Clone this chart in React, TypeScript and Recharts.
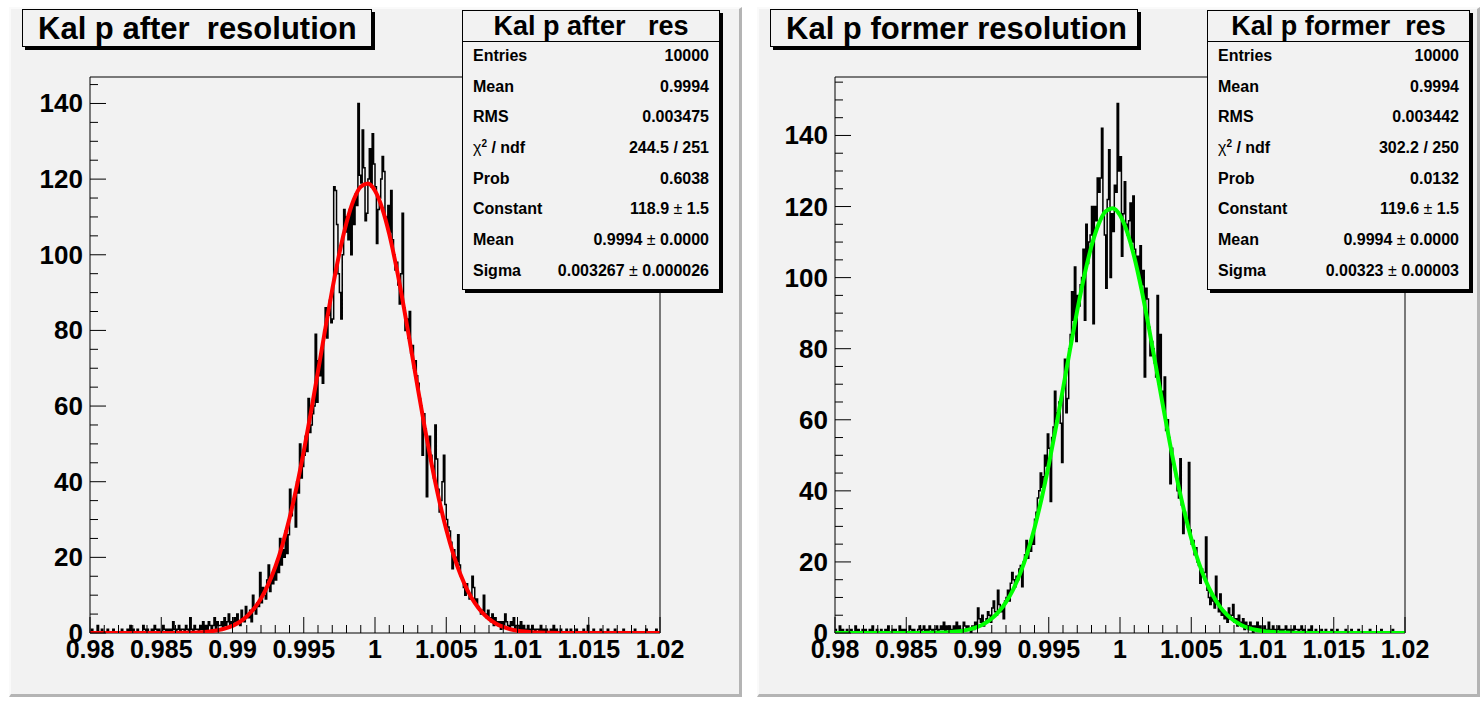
import React from 'react';
import { ComposedChart, Line, XAxis, YAxis, ReferenceArea } from 'recharts';

// ---- binning ----
const X_MIN = 0.98;
const X_MAX = 1.02;
const BIN_WIDTH = 0.0001; // 400 bins
const FIT_STEP = 0.0005; // fit curve sampling

// ---- "Kal p after resolution" bin contents (400 bins) ----
const afterCounts = [
  0, 1, 0, 0, 0, 2, 0, 0, 1, 0, 0, 0, 1, 0, 0, 0, 1, 0, 0, 0,
  0, 0, 1, 0, 0, 0, 1, 0, 2, 0, 1, 0, 0, 1, 0, 0, 0, 2, 1, 0,
  1, 0, 0, 1, 0, 2, 1, 0, 1, 0, 0, 2, 1, 0, 1, 0, 1, 0, 3, 1,
  0, 1, 2, 0, 1, 1, 0, 2, 1, 0, 4, 1, 0, 2, 1, 1, 0, 2, 1, 3,
  1, 2, 1, 3, 2, 1, 2, 4, 1, 3, 2, 2, 3, 1, 4, 2, 3, 5, 2, 3,
  2, 4, 3, 5, 3, 2, 6, 4, 3, 7, 5, 4, 6, 3, 10, 6, 5, 8, 7, 16,
  8, 12, 10, 9, 14, 18, 11, 15, 13, 17, 14, 19, 16, 25, 18, 22, 20, 27, 21, 26,
  38, 31, 34, 36, 28, 40, 37, 50, 41, 44, 47, 52, 48, 62, 53, 55, 58, 60, 79, 61,
  72, 68, 75, 66, 80, 86, 78, 84, 88, 82, 83, 118, 117, 108, 95, 90, 83, 100, 112, 106,
  110, 104, 112, 100, 114, 108, 116, 113, 140, 121, 119, 133, 123, 109, 111, 120, 128, 118, 132, 124,
  118, 103, 112, 115, 120, 126, 122, 110, 108, 113, 106, 117, 104, 100, 96, 98, 92, 87, 95, 111,
  86, 80, 83, 78, 85, 74, 76, 70, 72, 68, 66, 62, 60, 47, 58, 54, 36, 49, 52, 47,
  44, 41, 55, 46, 38, 32, 35, 40, 47, 34, 30, 28, 27, 24, 17, 22, 20, 19, 26, 18,
  15, 14, 12, 10, 13, 11, 9, 10, 15, 12, 8, 9, 7, 6, 5, 6, 10, 5, 4, 6,
  4, 3, 5, 2, 4, 3, 2, 3, 1, 3, 2, 5, 3, 2, 1, 3, 2, 4, 1, 2,
  2, 1, 3, 1, 2, 0, 1, 2, 1, 0, 2, 1, 0, 1, 1, 0, 2, 0, 1, 0,
  1, 0, 0, 1, 0, 2, 0, 1, 0, 0, 1, 0, 0, 0, 1, 0, 0, 1, 0, 0,
  0, 1, 0, 0, 0, 0, 1, 0, 0, 2, 0, 0, 0, 1, 0, 0, 0, 0, 1, 0,
  0, 0, 0, 1, 0, 0, 0, 0, 1, 0, 0, 0, 0, 0, 1, 0, 0, 0, 0, 0,
  0, 0, 1, 0, 0, 0, 0, 0, 0, 0, 1, 0, 0, 0, 0, 0, 0, 1, 0, 0,
];

// ---- "Kal p former resolution" bin contents (400 bins) ----
const formerCounts = [
  1, 0, 0, 2, 0, 1, 0, 0, 1, 0, 0, 1, 0, 0, 2, 0, 1, 0, 0, 1,
  0, 1, 0, 0, 1, 0, 2, 0, 0, 1, 0, 0, 1, 0, 0, 1, 0, 2, 0, 0,
  1, 0, 1, 0, 0, 2, 0, 1, 0, 1, 0, 0, 2, 1, 0, 1, 0, 0, 1, 2,
  0, 1, 2, 0, 1, 0, 2, 1, 0, 1, 1, 2, 0, 1, 2, 1, 3, 0, 2, 1,
  2, 1, 0, 2, 1, 3, 1, 2, 0, 1, 3, 2, 1, 2, 1, 0, 2, 1, 3, 2,
  7, 4, 3, 5, 2, 3, 4, 6, 5, 3, 7, 9, 6, 5, 12, 8, 6, 7, 4, 9,
  10, 12, 9, 14, 17, 15, 13, 16, 15, 18, 19, 13, 20, 22, 26, 21, 24, 23, 27, 25,
  32, 34, 38, 40, 45, 41, 44, 50, 47, 56, 52, 37, 55, 58, 68, 60, 62, 65, 59, 48,
  70, 77, 62, 66, 80, 84, 96, 88, 103, 82, 95, 92, 98, 100, 108, 88, 115, 104, 110, 112,
  120, 87, 120, 116, 128, 124, 128, 142, 118, 112, 97, 122, 136, 100, 118, 113, 126, 124, 149, 130,
  134, 106, 118, 127, 115, 112, 116, 121, 110, 123, 108, 104, 106, 100, 109, 98, 102, 72, 97, 94,
  86, 78, 82, 80, 76, 72, 95, 70, 84, 68, 64, 72, 57, 60, 55, 42, 52, 48, 46, 44,
  40, 38, 49, 36, 28, 34, 32, 30, 48, 29, 25, 26, 22, 24, 20, 19, 14, 18, 16, 17,
  27, 12, 10, 8, 11, 9, 7, 16, 9, 6, 11, 5, 6, 4, 5, 3, 7, 4, 5, 8,
  3, 4, 2, 5, 3, 2, 4, 1, 3, 2, 1, 3, 2, 0, 2, 1, 3, 1, 2, 1,
  1, 2, 0, 1, 3, 1, 0, 2, 1, 0, 1, 2, 0, 1, 0, 1, 2, 0, 1, 0,
  1, 0, 2, 1, 1, 0, 1, 2, 0, 1, 0, 0, 1, 0, 2, 0, 0, 1, 0, 0,
  0, 1, 0, 0, 1, 0, 0, 0, 1, 0, 0, 0, 1, 0, 0, 0, 0, 0, 1, 0,
  0, 0, 1, 0, 0, 0, 0, 1, 0, 0, 0, 0, 0, 0, 0, 1, 0, 0, 0, 0,
  0, 0, 0, 1, 0, 0, 0, 0, 0, 0, 0, 1, 0, 0, 0, 0, 0, 0, 0, 0,
];

// ---- gaussian fit curves, sampled every 0.0005 from 0.98 to 1.02 (81 points) ----
const afterFit = [
  0, 0, 0, 0, 0, 0, 0, 0, 0, 0, 0, 0,
  0.03, 0.05, 0.09, 0.16, 0.27, 0.46, 0.75, 1.21,
  1.9, 2.91, 4.36, 6.39, 9.14, 12.78, 17.45, 23.28, 30.34, 38.61,
  48.01, 58.31, 69.18, 80.18, 90.78, 100.4, 108.47, 114.47, 118.01, 118.84,
  116.91, 112.35, 105.46, 96.71, 86.63, 75.8, 64.79, 54.1, 44.13, 35.16,
  27.36, 20.81, 15.45, 11.21, 7.94, 5.5, 3.72, 2.46, 1.59, 1.0,
  0.62, 0.37, 0.22, 0.12, 0.07, 0.04, 0.02,
  0, 0, 0, 0, 0, 0, 0, 0, 0, 0, 0, 0, 0, 0,
];
const formerFit = [
  0, 0, 0, 0, 0, 0, 0, 0, 0, 0, 0, 0,
  0.02, 0.04, 0.08, 0.13, 0.24, 0.4, 0.67, 1.09,
  1.73, 2.69, 4.07, 6.01, 8.67, 12.21, 16.8, 22.55, 29.57, 37.84,
  47.29, 57.7, 68.73, 79.93, 90.75, 100.6, 108.88, 115.05, 118.69, 119.54,
  117.55, 112.86, 105.79, 96.81, 86.5, 75.46, 64.26, 53.44, 43.38, 34.39,
  26.61, 20.11, 14.83, 10.68, 7.51, 5.15, 3.45, 2.26, 1.44, 0.9,
  0.55, 0.33, 0.19, 0.11, 0.06, 0.03, 0.02,
  0, 0, 0, 0, 0, 0, 0, 0, 0, 0, 0, 0, 0, 0,
];

// ---- axis ticks ----
const xTicks = [
  0.98, 0.981, 0.982, 0.983, 0.984, 0.985, 0.986, 0.987, 0.988, 0.989,
  0.99, 0.991, 0.992, 0.993, 0.994, 0.995, 0.996, 0.997, 0.998, 0.999,
  1.0, 1.001, 1.002, 1.003, 1.004, 1.005, 1.006, 1.007, 1.008, 1.009,
  1.01, 1.011, 1.012, 1.013, 1.014, 1.015, 1.016, 1.017, 1.018, 1.019, 1.02,
];
const xMajorTicks = [0.98, 0.985, 0.99, 0.995, 1.0, 1.005, 1.01, 1.015, 1.02];
const xTickLabels = ['0.98', '0.985', '0.99', '0.995', '1', '1.005', '1.01', '1.015', '1.02'];
const yTicksAfter = [
  0, 5, 10, 15, 20, 25, 30, 35, 40, 45, 50, 55, 60, 65, 70,
  75, 80, 85, 90, 95, 100, 105, 110, 115, 120, 125, 130, 135, 140, 145,
];
const yTicksFormer = [
  0, 5, 10, 15, 20, 25, 30, 35, 40, 45, 50, 55, 60, 65, 70, 75,
  80, 85, 90, 95, 100, 105, 110, 115, 120, 125, 130, 135, 140, 145, 150, 155,
];
const yLabelValues = [0, 20, 40, 60, 80, 100, 120, 140];

// ---- statistics boxes ----
const statLabels = ['Entries', 'Mean', 'RMS', 'chi2', 'Prob', 'Constant', 'Mean', 'Sigma'];
const afterStats = ['10000', '0.9994', '0.003475', '244.5 / 251', '0.6038', '118.9 ± 1.5', '0.9994 ± 0.0000', '0.003267 ± 0.000026'];
const formerStats = ['10000', '0.9994', '0.003442', '302.2 / 250', '0.0132', '119.6 ± 1.5', '0.9994 ± 0.0000', '0.00323 ± 0.00003'];

const FONT = '"Liberation Sans", Arial, Helvetica, sans-serif';
const PAD_BG = '#f2f2f2';

function histPoints(counts: number[]) {
  const pts = counts.map((c, i) => ({ x: X_MIN + i * BIN_WIDTH, y: c }));
  pts.push({ x: X_MAX, y: counts[counts.length - 1] });
  return pts;
}

function fitPoints(values: number[]) {
  return values.map((v, j) => ({ x: X_MIN + j * FIT_STEP, y: v }));
}

function XTick(props: any) {
  const { x, y, payload } = props;
  const idx = xMajorTicks.findIndex((t) => Math.abs(t - payload.value) < 1e-9);
  const major = idx >= 0;
  return (
    <g>
      <line x1={x} y1={y} x2={x} y2={y - (major ? 16 : 8)} stroke="#000" strokeWidth={1} />
      {major && (
        <text x={x} y={y + 25} textAnchor="middle" fontFamily={FONT} fontWeight="bold" fontSize={25} fill="#000">
          {xTickLabels[idx]}
        </text>
      )}
    </g>
  );
}

function YTick(props: any) {
  const { x, y, payload } = props;
  const major = yLabelValues.indexOf(payload.value) >= 0;
  return (
    <g>
      <line x1={x} y1={y} x2={x + (major ? 16 : 8)} y2={y} stroke="#000" strokeWidth={1} />
      {major && (
        <text x={x - 7} y={y + 9} textAnchor="end" fontFamily={FONT} fontWeight="bold" fontSize={26} fill="#000">
          {payload.value}
        </text>
      )}
    </g>
  );
}

function StatValue({ text }: { text: string }) {
  const parts = text.split('±');
  if (parts.length === 1) return <span>{text}</span>;
  return (
    <span>
      {parts[0]}
      <span style={{ fontWeight: 'normal' }}>±</span>
      {parts[1]}
    </span>
  );
}

function StatLabel({ text }: { text: string }) {
  if (text === 'chi2') {
    return (
      <span>
        <span style={{ fontWeight: 'normal' }}>χ</span>
        <sup style={{ fontSize: 10, verticalAlign: 6, lineHeight: 0 }}>2</sup> / ndf
      </span>
    );
  }
  return <span>{text}</span>;
}

type PanelProps = {
  originX: number;
  title: string;
  titleBox: { left: number; width: number };
  statsTitle: string;
  statsBox: { left: number; width: number };
  stats: string[];
  counts: number[];
  fit: number[];
  fitColor: string;
  yTicks: number[];
  pad: { left: number; width: number };
};

function Panel(p: PanelProps) {
  const yMax = Math.max(...p.counts) * 1.05;
  return (
    <div style={{ position: 'absolute', left: p.originX, top: 0, width: 740, height: 702 }}>
      <div
        style={{
          position: 'absolute',
          left: p.pad.left,
          top: 7,
          width: p.pad.width,
          height: 690,
          background: PAD_BG,
          borderTop: '2px solid #fafafa',
          borderLeft: '2px solid #fafafa',
          borderRight: '3px solid #b4b4b4',
          borderBottom: '3px solid #b4b4b4',
          boxSizing: 'border-box',
        }}
      />
      <div style={{ position: 'absolute', left: 0, top: 0 }}>
        <ComposedChart width={740} height={702} margin={{ top: 77, right: 80, bottom: 0, left: 0 }}>
          <XAxis
            type="number"
            dataKey="x"
            domain={[X_MIN, X_MAX]}
            allowDataOverflow
            ticks={xTicks}
            interval={0}
            tickSize={0}
            tickMargin={0}
            axisLine={false}
            tickLine={false}
            height={69}
            tick={(t: any) => <XTick {...t} />}
          />
          <YAxis
            type="number"
            domain={[0, yMax]}
            allowDataOverflow
            ticks={p.yTicks}
            interval={0}
            tickSize={0}
            tickMargin={0}
            axisLine={false}
            tickLine={false}
            width={90}
            tick={(t: any) => <YTick {...t} />}
          />
          <ReferenceArea
            x1={X_MIN}
            x2={X_MAX}
            y1={0}
            y2={yMax}
            fill="none"
            stroke="#000"
            strokeWidth={1}
            ifOverflow="visible"
          />
          <Line
            data={histPoints(p.counts)}
            dataKey="y"
            type="stepAfter"
            stroke="#000"
            strokeWidth={1.5}
            dot={false}
            activeDot={false}
            isAnimationActive={false}
          />
          <Line
            data={fitPoints(p.fit)}
            dataKey="y"
            type="monotone"
            stroke={p.fitColor}
            strokeWidth={4}
            dot={false}
            activeDot={false}
            isAnimationActive={false}
          />
        </ComposedChart>
      </div>
      {/* title box */}
      <div
        style={{
          position: 'absolute',
          left: p.titleBox.left,
          top: 9,
          width: p.titleBox.width,
          height: 38,
          background: PAD_BG,
          border: '1px solid #000',
          boxShadow: '3px 3px 0 #000',
          boxSizing: 'border-box',
          fontFamily: FONT,
          fontWeight: 'bold',
          fontSize: 31,
          lineHeight: '37px',
          paddingLeft: 15,
          whiteSpace: 'pre',
          color: '#000',
        }}
      >
        {p.title}
      </div>
      {/* statistics box */}
      <div
        style={{
          position: 'absolute',
          left: p.statsBox.left,
          top: 10,
          width: p.statsBox.width,
          height: 280,
          background: PAD_BG,
          border: '1px solid #000',
          boxShadow: '3px 3px 0 #000',
          boxSizing: 'border-box',
          fontFamily: FONT,
          fontWeight: 'bold',
          color: '#000',
        }}
      >
        <div
          style={{
            height: 30,
            borderBottom: '1px solid #000',
            textAlign: 'center',
            fontSize: 27,
            lineHeight: '30px',
            whiteSpace: 'pre',
          }}
        >
          {p.statsTitle}
        </div>
        {statLabels.map((lab, i) => (
          <div
            key={i}
            style={{
              display: 'flex',
              justifyContent: 'space-between',
              height: 30.7,
              lineHeight: '27px',
              fontSize: 16,
              padding: '0 10px 0 10px',
              boxSizing: 'border-box',
            }}
          >
            <StatLabel text={lab} />
            <StatValue text={p.stats[i]} />
          </div>
        ))}
      </div>
    </div>
  );
}

export default function App() {
  return (
    <div
      style={{
        position: 'fixed',
        left: 0,
        top: 0,
        width: 1484,
        height: 702,
        background: '#ffffff',
        overflow: 'hidden',
      }}
    >
      <Panel
        originX={0}
        title={'Kal p after  resolution'}
        titleBox={{ left: 22, width: 350 }}
        statsTitle={'Kal p after   res'}
        statsBox={{ left: 462, width: 258 }}
        stats={afterStats}
        counts={afterCounts}
        fit={afterFit}
        fitColor="#ff0000"
        yTicks={yTicksAfter}
        pad={{ left: 9, width: 733 }}
      />
      <Panel
        originX={745}
        title={'Kal p former resolution'}
        titleBox={{ left: 25, width: 368 }}
        statsTitle={'Kal p former  res'}
        statsBox={{ left: 462, width: 263 }}
        stats={formerStats}
        counts={formerCounts}
        fit={formerFit}
        fitColor="#00ff00"
        yTicks={yTicksFormer}
        pad={{ left: 12, width: 723 }}
      />
    </div>
  );
}
